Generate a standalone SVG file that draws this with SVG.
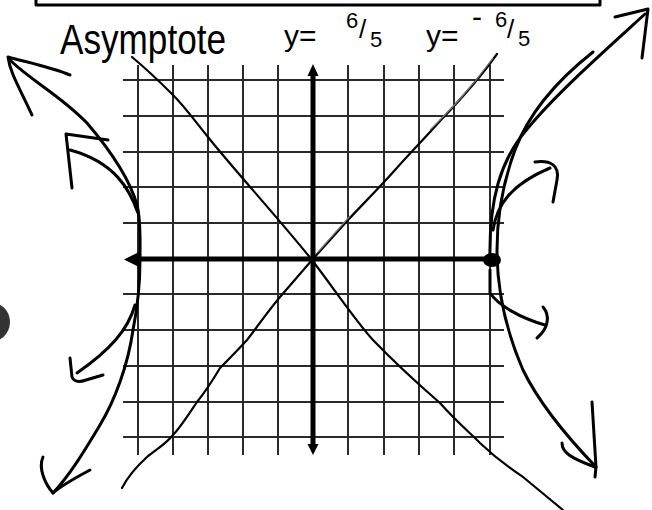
<svg xmlns="http://www.w3.org/2000/svg" width="652" height="510" viewBox="0 0 652 510">
<style>
.grid{stroke:#2a2a2a;stroke-width:2;fill:none}
.axis{stroke:#000;stroke-width:5;fill:none}
.ink{stroke:#000;stroke-width:3;fill:none;stroke-linecap:round;stroke-linejoin:round}
.thin{stroke:#000;stroke-width:2.2;fill:none;stroke-linecap:round;stroke-linejoin:round}
.hand{font-family:"Liberation Sans","DejaVu Sans",sans-serif;fill:#000}
</style>
<rect width="652" height="510" fill="#fff"/>
<!-- top box edge -->
<path class="ink" d="M36,0 L36,5 L600,5 L600,0" stroke-width="4"/>
<!-- labels -->
<text class="hand" x="60" y="54" font-size="42" textLength="166" lengthAdjust="spacingAndGlyphs">Asymptote</text>
<text class="hand" font-size="30"><tspan x="284" y="46">y=</tspan><tspan x="346" y="28" font-size="22">6</tspan><tspan x="359" y="38" font-size="26">/</tspan><tspan x="370" y="47" font-size="22">5</tspan></text>
<text class="hand" font-size="30"><tspan x="426" y="46">y=</tspan><tspan x="472" y="27" font-size="30">-</tspan><tspan x="495" y="27" font-size="22">6</tspan><tspan x="507" y="38" font-size="26">/</tspan><tspan x="518" y="46" font-size="22">5</tspan></text>
<!-- grid -->
<g id="grid">
<path class="grid" d="M138,65V455 M173,65V455 M208,65V455 M243,65V455 M278,65V455 M348,65V455 M384,65V455 M419,65V455 M454,65V455 M490,65V455"/>
<path class="grid" d="M123,80H504 M123,116H504 M123,152H504 M123,187H504 M123,223H504 M123,294H504 M123,330H504 M123,366H504 M123,402H504 M123,437H504"/>
</g>
<!-- axes -->
<g id="axes">
<path class="axis" d="M313,72V448"/>
<path d="M313,64 L307.5,76 L318.5,76 Z M313,455 L307.5,444 L318.5,444 Z" fill="#000"/>
<path class="axis" d="M134,259H490"/>
<path d="M124,259.5 L139,252 L139,267 Z" fill="#000"/>
<ellipse cx="492" cy="260" rx="9" ry="7" fill="#000"/>
</g>
<!-- asymptotes -->
<g id="asymptotes">
<path class="thin" d="M132,57 C150,72 160,82 173,95 S198,125 208,137 C230,165 280,220 312,260 C335,290 355,320 373,340 C400,368 425,390 440,403 C455,420 470,433 480,443 C500,462 520,475 523,477 L563,510"/>
<path class="thin" d="M497,54 C480,78 462,98 440,121 C425,138 410,153 395,170 C380,187 360,207 348,220 L312,260 C300,274 292,283 280,297 C265,315 255,330 247,340 C235,353 228,360 220,368 C210,385 205,392 197,402 C185,420 180,428 173,435 C165,445 155,450 147,457 C135,468 127,478 122,488"/>
<path d="M493,58 C470,90 450,110 430,130 M350,216 L318,252" stroke="#777" stroke-width="1.2" fill="none"/>
</g>
<!-- left branch -->
<g id="left-branch">
<path class="ink" d="M10,60 C30,80 60,95 87,123 C110,150 130,180 137,205 C141,220 140,240 140,260 C140,290 137,310 133,330 C128,365 115,400 100,425 C85,450 70,475 53,493"/>
<path class="ink" d="M8,57 C30,63 50,67 70,75 M8,57 C10,72 18,85 32,115"/>
<path class="ink" d="M138,213 C130,190 115,162 70,150"/>
<path class="ink" d="M108,140 L66,134 L72,188" stroke-width="3.5"/>
<path class="ink" d="M135,305 C128,330 110,350 77,373"/>
<path class="ink" d="M70,358 L72,377 Q75,384 86,380 L103,375"/>
<path class="ink" d="M43,457 C38,468 45,484 53,493 C62,485 75,478 90,470"/>
</g>
<!-- right branch -->
<g id="right-branch">
<path class="ink" d="M490,258 C489,200 500,160 528,128 C555,95 600,55 645,14"/>
<path class="ink" d="M593,52 C560,78 530,110 515,150 C502,185 497,220 497,250 C497,300 510,340 523,370 C540,405 570,440 596,467"/>
<path class="ink" d="M615,17 L648,9 C646,25 644,42 642,58"/>
<path class="ink" d="M493,230 C497,205 510,185 550,168"/>
<path class="ink" d="M535,162 C550,160 560,165 557,180 L553,202"/>
<path class="ink" d="M490,270 L490,293 C498,305 520,318 545,325"/>
<path class="ink" d="M543,307 C550,315 549,328 537,338"/>
<path class="ink" d="M592,402 L596,467 L595,477 M562,443 C562,452 570,458 595,467"/>
</g>
<circle cx="-10" cy="322" r="20" fill="#333"/>
</svg>
